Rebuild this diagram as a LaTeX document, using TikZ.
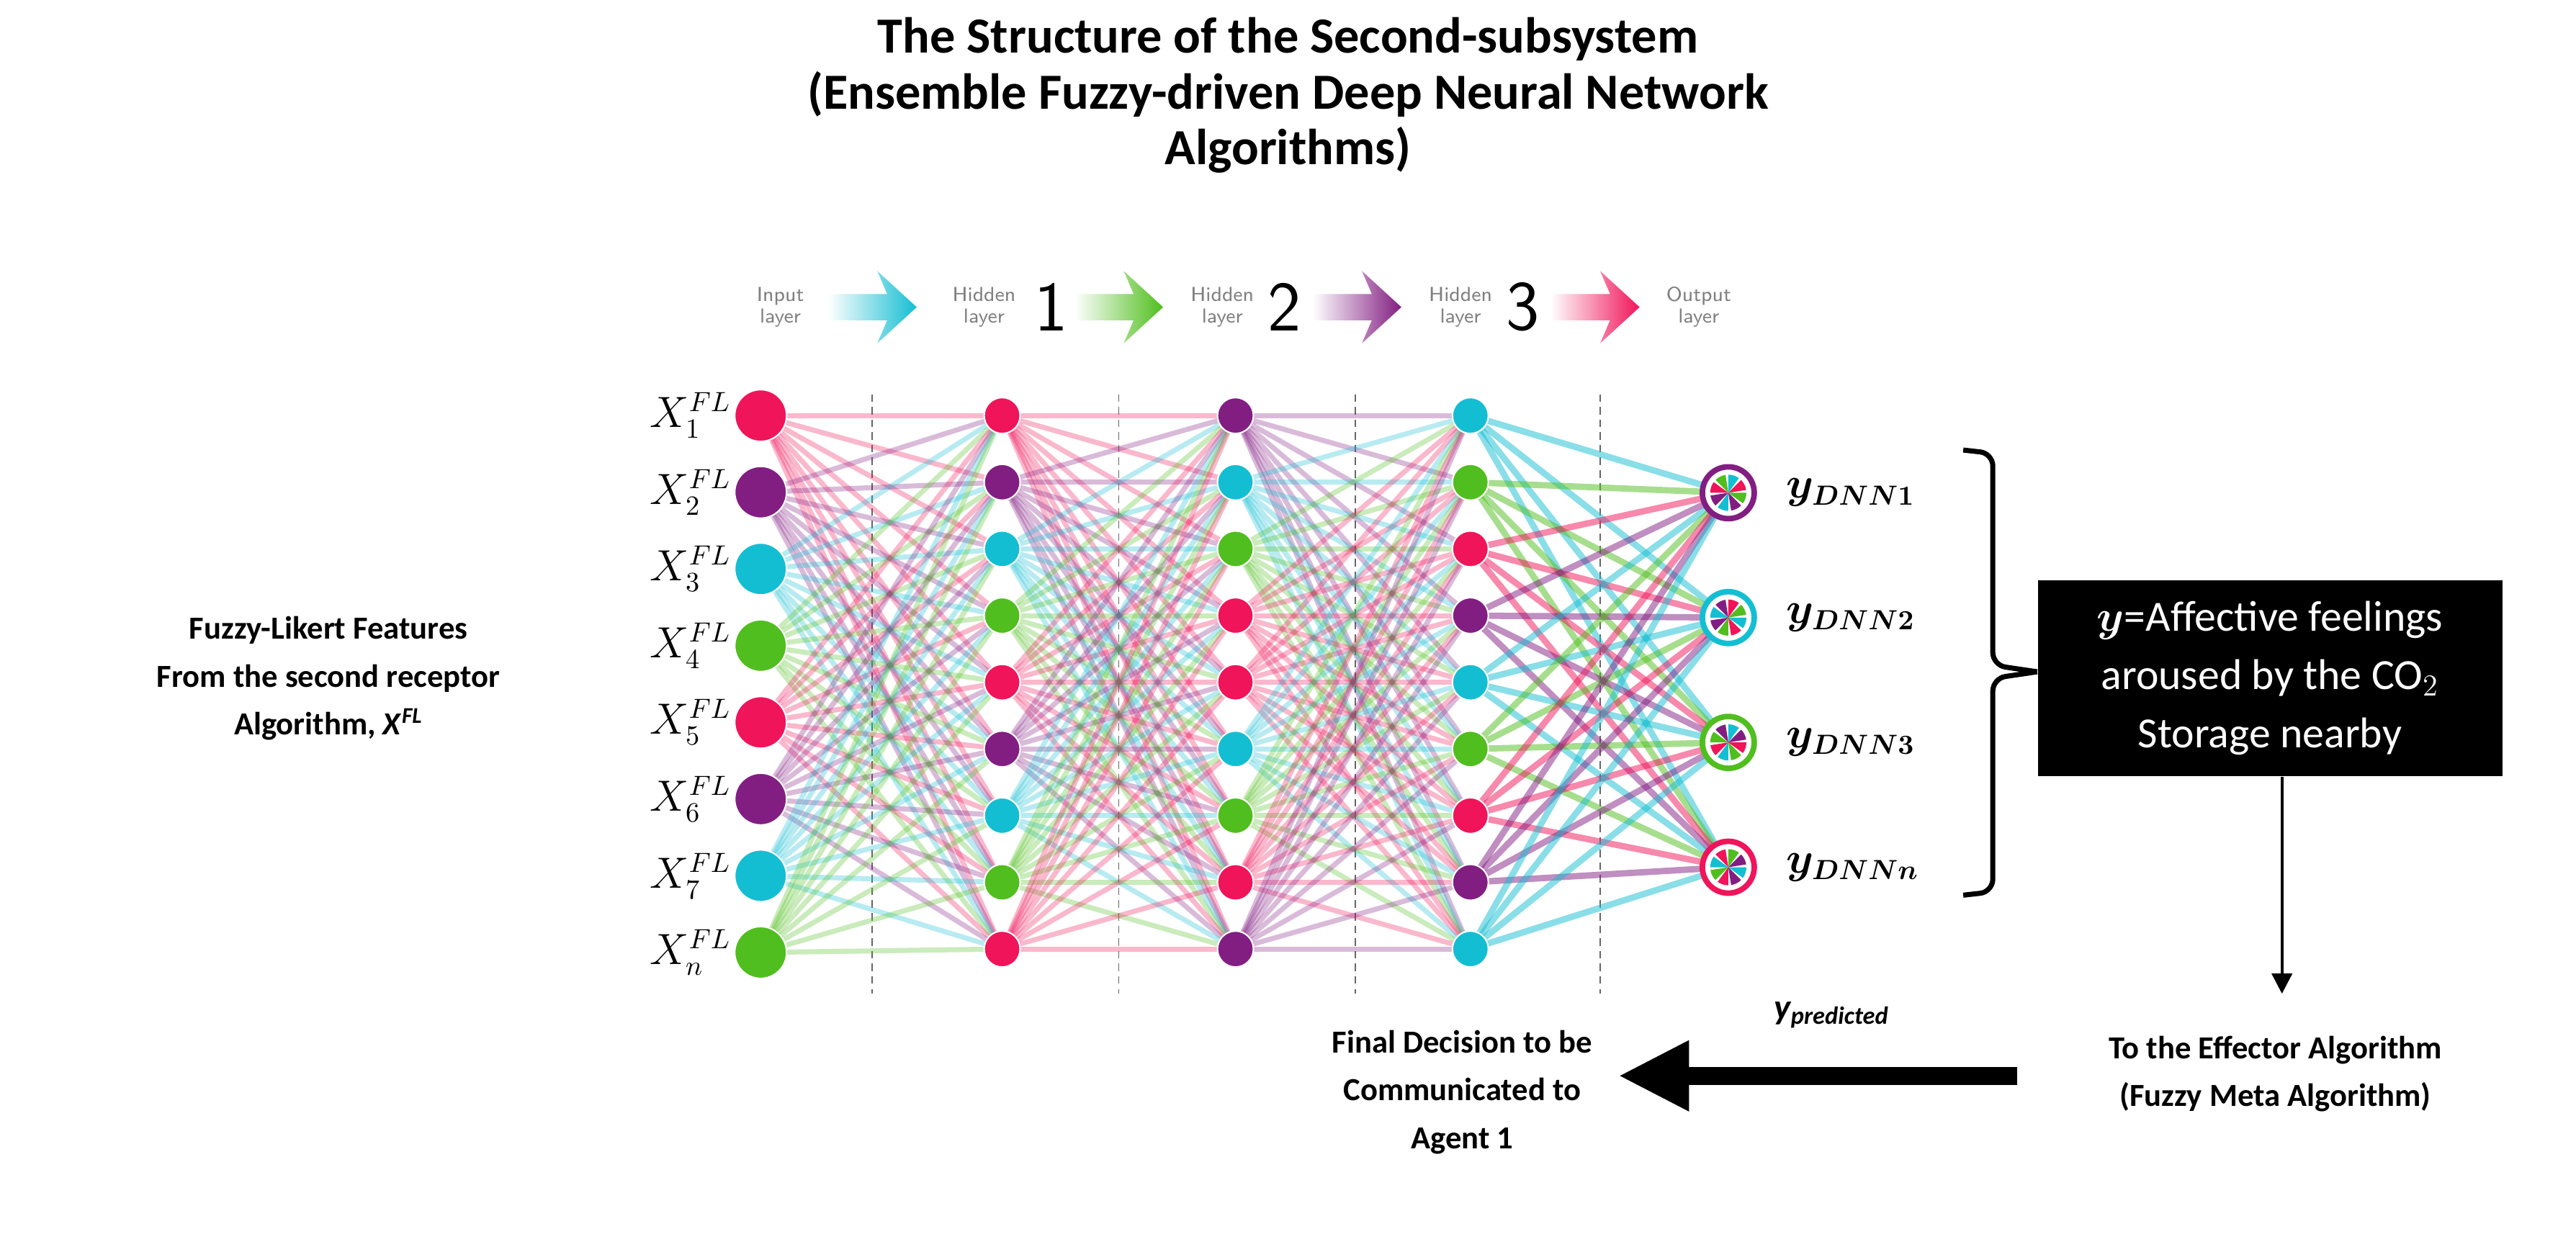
\documentclass[tikz,border=0pt]{standalone}
\usepackage{fontspec}
\usepackage{amsmath,bm}
\setmainfont{Carlito}
\usetikzlibrary{arrows.meta}

\definecolor{npink}{RGB}{240,20,90}
\definecolor{npurple}{RGB}{130,30,130}
\definecolor{ncyan}{RGB}{20,190,210}
\definecolor{ngreen}{RGB}{80,190,30}

\tikzset{
  neuron/.style={circle, draw=white, line width=0.6pt, inner sep=0pt, minimum size=#1},
  inneuron/.style={neuron=0.72cm},
  hidneuron/.style={neuron=0.5cm},
  link/.style={line width=2pt, opacity=0.3},
  sep/.style={densely dashed, gray!80!black, line width=0.5pt},
  hdr/.style={gray, font=\fontsize{8}{8.5}\selectfont\sffamily, align=center},
  hnum/.style={font=\fontsize{28}{28}\selectfont\sffamily},
  lbl/.style={font=\fontsize{12.7}{18.8}\selectfont\bfseries, align=center},
  title/.style={font=\fontsize{20}{22}\selectfont\bfseries, align=center}
}

\begin{document}
\begin{tikzpicture}[x=0.02281cm, y=-0.02281cm]
  \useasboundingbox (0,0) rectangle (1568,759);

  % title
  \node (title) [title] at (784,58) {The Structure of the Second-subsystem\\(Ensemble Fuzzy-driven Deep Neural Network\\Algorithms)};

  % layer header
  \node (hin) [hdr] at (475,187) {Input\\layer};
  \node (h1) [hdr] at (599,187) {Hidden\\layer};
  \node (n1) [hnum] at (640,187) {1};
  \node (h2) [hdr] at (744,187) {Hidden\\layer};
  \node (n2) [hnum] at (782,187) {2};
  \node (h3) [hdr] at (889,187) {Hidden\\layer};
  \node (n3) [hnum] at (927,187) {3};
  \node (hout) [hdr] at (1034,187) {Output\\layer};
  \foreach \xa/\c in {504/ncyan, 654/ngreen, 799/npurple, 944/npink}{
    \shade[left color=white, right color=\c]
      (\xa,179) -- (\xa+36,179) -- (\xa+30,165) -- (\xa+54,187) -- (\xa+30,209) -- (\xa+36,195) -- (\xa,195) -- cycle;
  }

  % layer separators
  \foreach \xs in {531,681,825,974}
    \draw [sep] (\xs,240) -- (\xs,605);

  % links input -> hidden 1
  \foreach \c [count=\i] in {npink,npurple,ncyan,ngreen,npink,npurple,ncyan,ngreen}
    \foreach \j in {1,...,9}
      \draw [link, \c] (463,{253+(\i-1)*46.7}) -- (610,{253+(\j-1)*40.6});
  % links hidden 1 -> hidden 2
  \foreach \c [count=\i] in {npink,npurple,ncyan,ngreen,npink,npurple,ncyan,ngreen,npink}
    \foreach \j in {1,...,9}
      \draw [link, \c] (610,{253+(\i-1)*40.6}) -- (752,{253+(\j-1)*40.6});
  % links hidden 2 -> hidden 3
  \foreach \c [count=\i] in {npurple,ncyan,ngreen,npink,npink,ncyan,ngreen,npink,npurple}
    \foreach \j in {1,...,9}
      \draw [link, \c] (752,{253+(\i-1)*40.6}) -- (895,{253+(\j-1)*40.6});
  % links hidden 3 -> output
  \foreach \c [count=\i] in {ncyan,ngreen,npink,npurple,ncyan,ngreen,npink,npurple,ncyan}
    \foreach \j in {1,...,4}
      \draw [link, opacity=0.5, line width=2.5pt, \c] (895,{253+(\i-1)*40.6}) -- (1052,{300+(\j-1)*76});

  % input layer
  \foreach \c [count=\i] in {npink,npurple,ncyan,ngreen,npink,npurple,ncyan,ngreen}
    \node (i\i) [inneuron, fill=\c] at (463,{253+(\i-1)*46.7}) {};
  \foreach \s [count=\i] in {1,2,3,4,5,6,7,n}
    \node (xl\i) [left=1pt, inner sep=0pt, font=\fontsize{16}{16}\selectfont] at (i\i.west) {$X_{\s}^{FL}$};
  % hidden layers
  \foreach \c [count=\i] in {npink,npurple,ncyan,ngreen,npink,npurple,ncyan,ngreen,npink}
    \node (a\i) [hidneuron, fill=\c] at (610,{253+(\i-1)*40.6}) {};
  \foreach \c [count=\i] in {npurple,ncyan,ngreen,npink,npink,ncyan,ngreen,npink,npurple}
    \node (b\i) [hidneuron, fill=\c] at (752,{253+(\i-1)*40.6}) {};
  \foreach \c [count=\i] in {ncyan,ngreen,npink,npurple,ncyan,ngreen,npink,npurple,ncyan}
    \node (c\i) [hidneuron, fill=\c] at (895,{253+(\i-1)*40.6}) {};

  % output layer
  \foreach \c/\s [count=\i] in {npurple/1, ncyan/2, ngreen/3, npink/n}{
    \node (o\i) [inneuron, fill=white, draw=\c, line width=2.2pt] at (1052,{300+(\i-1)*76}) {};
    \foreach \w/\wc in {0/ncyan,45/npurple,90/npink,135/ngreen,180/ncyan,225/npink,270/ngreen,315/npurple}
      \fill [\wc] (o\i.center) -- ++(\w+90*\i:11) arc [start angle=\w+90*\i, end angle=\w+90*\i+36, radius=11] -- cycle;
    \node (yl\i) [right=8pt, font=\fontsize{16}{16}\selectfont] at (o\i.east) {$\bm{y_{DNN\s}}$};
  }

  % brace and box
  \coordinate (bt) at (1195,274);
  \coordinate (bb) at (1195,545);
  \coordinate (bm) at (1240,409);
  \draw [line width=2pt, rounded corners=5pt] (bt) -- (1213,276) -- (1213,405) -- (bm);
  \draw [line width=2pt, rounded corners=5pt] (bb) -- (1213,543) -- (1213,413) -- (bm);
  \node (feel) [fill=black, text=white, font=\fontsize{17}{23}\selectfont, align=center, minimum width=6.45cm, minimum height=2.72cm, anchor=west] at (1240,413) {$\bm{y}$=Affective feelings\\aroused by the CO$_2$\\Storage nearby};

  % bottom flow
  \node (eff) [lbl] at (1385,654) {To the Effector Algorithm\\(Fuzzy Meta Algorithm)};
  \node (dec) [lbl] at (890,665) {Final Decision to be\\Communicated to\\Agent 1};
  \coordinate (tip) at (985,655);
  \draw [-{Triangle[length=28pt,width=26pt]}, line width=7pt] (1228,655) -- (tip);
  \draw [-{Triangle[length=8pt,width=8pt]}, line width=1.2pt] (feel.south -| 1389,0) -- (1389,605);
  \node (ypred) [font=\fontsize{14}{14}\selectfont\bfseries\itshape] at (1115,618) {y$_{\text{predicted}}$};

  % left description
  \node (feat) [lbl] at (200,413) {Fuzzy-Likert Features\\From the second receptor\\Algorithm, \textit{X}$^{\textit{FL}}$};
\end{tikzpicture}
\end{document}
